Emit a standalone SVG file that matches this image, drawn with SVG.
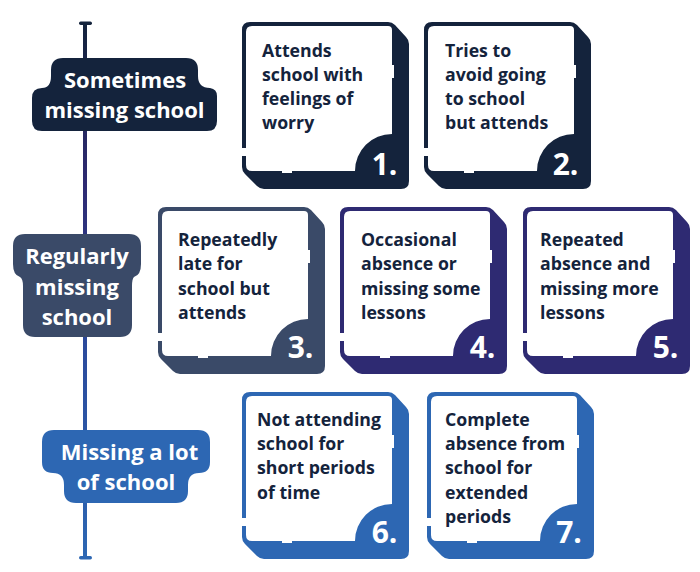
<svg xmlns="http://www.w3.org/2000/svg" width="700" height="572" viewBox="0 0 700 572">
<style>
text{font-family:"Open Sans","Noto Sans",sans-serif;font-weight:700}
.t{font-size:17.700px;fill:#14233c}
.n{font-size:30px;fill:#fff;text-anchor:middle}
.l{font-size:22px;fill:#fff;text-anchor:middle}
.in{fill:#fff}
</style>
<defs>
<linearGradient id="sp" gradientUnits="userSpaceOnUse" x1="0" y1="22" x2="0" y2="560"><stop offset="0" stop-color="#14233c"/><stop offset=".3" stop-color="#2e2a72"/><stop offset=".6" stop-color="#2b4a9c"/><stop offset="1" stop-color="#2d67b3"/></linearGradient>
<path id="o" d="M8 0H146Q150 0 153 3L164 15Q167 18 167 22V159Q167 167 159 167H22Q18 167 15 164L3 152Q0 149 0 145V8Q0 0 8 0Z"/>
<path id="w" d="M10 4H146Q150 4 150 8V43H152V56H150V112A37 37 0 0 0 113 149H50V151H40V149H10Q4 149 4 143V134H0V126H4V10Q4 4 10 4Z"/>
</defs>
<g id="connectors"><path d="M85 23V557" stroke="url(#sp)" stroke-width="4" fill="none"/><rect x="79" y="21.500" width="13" height="3.500" rx="1.700" fill="#14233c"/><rect x="79" y="556" width="13" height="3.500" rx="1.700" fill="#2d67b3"/></g>
<g id="label1"><path fill="#14233c" d="M63 58H186Q198 58 198 70V76Q198 88 210 88Q217 89 217 96V121Q217 131 207 131H42Q32 131 32 121V98Q32 88 42 88Q51 88 51 76V70Q51 58 63 58Z"/><text class="l" x="125" y="88.300">Sometimes</text><text class="l" x="124.500" y="117.700">missing school</text></g>
<g id="label2"><path fill="#3a4a68" d="M25 234H129Q141 234 141 246V264Q141 275 134 277Q132 279 132 286V325Q132 337 120 337H35Q23 337 23 325V286Q23 279 20 277Q13 275 13 264V246Q13 234 25 234Z"/><text class="l" x="77" y="264">Regularly</text><text class="l" x="77" y="294.500">missing</text><text class="l" x="77" y="324.500">school</text></g>
<g id="label3"><path fill="#2d67b3" d="M54 430H198Q210 430 210 442V462Q210 473 199 473Q188 473 188 485V491Q188 503 176 503H76Q64 503 64 491V485Q64 473 53 473Q42 473 42 462V442Q42 430 54 430Z"/><text class="l" x="129.500" y="460">Missing a lot</text><text class="l" x="126" y="490">of school</text></g>
<g id="card1" transform="translate(242 22)" fill="#14233c"><use href="#o"/><use href="#w" class="in"/><text class="t" x="20" y="34.500">Attends</text><text class="t" x="20" y="58.800">school with</text><text class="t" x="20" y="83.100">feelings of</text><text class="t" x="20" y="107.400">worry</text><text class="n" x="142.500" y="153">1.</text></g>
<g id="card2" transform="translate(424 22)" fill="#14233c"><use href="#o"/><use href="#w" class="in"/><text class="t" x="21" y="34.500">Tries to</text><text class="t" x="21" y="58.800">avoid going</text><text class="t" x="21" y="83.100">to school</text><text class="t" x="21" y="107.400">but attends</text><text class="n" x="141.500" y="153">2.</text></g>
<g id="card3" transform="translate(158 207)" fill="#3a4a68"><use href="#o"/><use href="#w" class="in"/><text class="t" x="20" y="39">Repeatedly</text><text class="t" x="20" y="63.300">late for</text><text class="t" x="20" y="87.600">school but</text><text class="t" x="20" y="111.900">attends</text><text class="n" x="142.500" y="151">3.</text></g>
<g id="card4" transform="translate(340 207)" fill="#2e2a72"><use href="#o"/><use href="#w" class="in"/><text class="t" x="21" y="39">Occasional</text><text class="t" x="21" y="63.300">absence or</text><text class="t" x="21" y="87.600">missing some</text><text class="t" x="21" y="111.900">lessons</text><text class="n" x="142.500" y="151">4.</text></g>
<g id="card5" transform="translate(523 207)" fill="#2e2a72"><use href="#o"/><use href="#w" class="in"/><text class="t" x="17" y="39">Repeated</text><text class="t" x="17" y="63.300">absence and</text><text class="t" x="17" y="87.600">missing more</text><text class="t" x="17" y="111.900">lessons</text><text class="n" x="142.500" y="151">5.</text></g>
<g id="card6" transform="translate(242 392)" fill="#2d67b3"><use href="#o"/><use href="#w" class="in"/><text class="t" x="15" y="33.800">Not attending</text><text class="t" x="15" y="58.100">school for</text><text class="t" x="15" y="82.400">short periods</text><text class="t" x="15" y="106.700">of time</text><text class="n" x="142.500" y="151">6.</text></g>
<g id="card7" transform="translate(427 392)" fill="#2d67b3"><use href="#o"/><use href="#w" class="in"/><text class="t" x="18" y="33.800">Complete</text><text class="t" x="18" y="58.100">absence from</text><text class="t" x="18" y="82.400">school for</text><text class="t" x="18" y="106.700">extended</text><text class="t" x="18" y="131">periods</text><text class="n" x="142" y="151">7.</text></g>
</svg>
